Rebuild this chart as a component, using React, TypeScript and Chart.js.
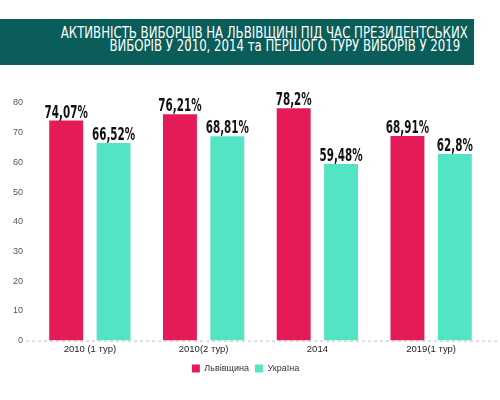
import { useEffect, useRef } from "react"
import { Chart, registerables } from "chart.js"

Chart.register(...registerables)

const categories = ["2010 (1 тур)", "2010(2 тур)", "2014", "2019(1 тур)"]
const lvivValues = [74.07, 76.21, 78.2, 68.91]
const ukraineValues = [66.52, 68.81, 59.48, 62.8]
const seriesNames = ["Львівщина", "Україна"]
const titleLines = [
  "АКТИВНІСТЬ ВИБОРЦІВ НА ЛЬВІВЩИНІ ПІД ЧАС ПРЕЗИДЕНТСЬКИХ",
  "ВИБОРІВ У 2010, 2014 та ПЕРШОГО ТУРУ ВИБОРІВ У 2019",
]

const RED = "#e41b57"
const TEAL = "#53e4c3"
const NARROW = "'Liberation Sans Narrow', 'DejaVu Sans Condensed', sans-serif"

// value labels above bars, narrow bold
const valueLabels = {
  id: "valueLabels",
  afterDatasetsDraw(chart: Chart) {
    const ctx = chart.ctx
    ctx.save()
    ctx.fillStyle = "#111"
    ctx.textAlign = "center"
    ctx.textBaseline = "alphabetic"
    ctx.font = `bold 18px ${NARROW}`
    chart.data.datasets.forEach((ds, i) => {
      const meta = chart.getDatasetMeta(i)
      meta.data.forEach((bar: any, j) => {
        const text = String(ds.data[j]).replace(".", ",") + "%"
        ctx.save()
        ctx.translate(bar.x, bar.y - 3)
        ctx.scale(0.64, 1)
        ctx.fillText(text, 0, 0)
        ctx.restore()
      })
    })
    ctx.restore()
  },
}

// dashed zero line running out to the right edge
const zeroLine = {
  id: "zeroLine",
  beforeDatasetsDraw(chart: Chart) {
    const ctx = chart.ctx
    const y = chart.scales.y.getPixelForValue(0)
    ctx.save()
    ctx.strokeStyle = "#bdbdbd"
    ctx.lineWidth = 1
    ctx.setLineDash([3, 3])
    ctx.beginPath()
    ctx.moveTo(chart.chartArea.left - 7, y + 0.5)
    ctx.lineTo(chart.width, y + 0.5)
    ctx.stroke()
    ctx.restore()
  },
}

export default function App() {
  const chartRef = useRef<HTMLCanvasElement>(null)
  const chartInstance = useRef<Chart | null>(null)

  useEffect(() => {
    if (!chartRef.current) return
    if (chartInstance.current) chartInstance.current.destroy()
    const ctx = chartRef.current.getContext("2d")
    if (!ctx) return

    chartInstance.current = new Chart(ctx, {
      type: "bar",
      data: {
        labels: categories,
        datasets: [
          { label: seriesNames[0], data: lvivValues, backgroundColor: RED },
          { label: seriesNames[1], data: ukraineValues, backgroundColor: TEAL },
        ],
      },
      options: {
        animation: false,
        responsive: true,
        maintainAspectRatio: false,
        categoryPercentage: 0.833,
        barPercentage: 0.716,
        layout: { padding: { top: 103, right: 12, bottom: 17, left: 3 } },
        plugins: {
          legend: {
            position: "bottom",
            labels: {
              boxWidth: 8,
              boxHeight: 8,
              padding: 6,
              color: "#333",
              font: { family: "'Liberation Sans', Arial, sans-serif", size: 9 },
            },
          },
          tooltip: { enabled: false },
        },
        scales: {
          x: {
            grid: { display: false, drawTicks: false },
            border: { display: false },
            ticks: {
              color: "#222",
              padding: 3,
              font: { family: "'Liberation Sans', Arial, sans-serif", size: 9.5 },
            },
          },
          y: {
            min: 0,
            max: 80,
            grid: { display: false, drawTicks: false },
            border: { display: false },
            ticks: {
              stepSize: 10,
              color: "#555",
              padding: 10,
              font: { family: "'Liberation Sans', Arial, sans-serif", size: 9 },
            },
          },
        },
      },
      plugins: [zeroLine, valueLabels],
    })

    return () => {
      if (chartInstance.current) chartInstance.current.destroy()
    }
  }, [])

  return (
    <div style={{ position: "fixed", left: 0, top: 0, width: 500, height: 400, background: "#fff" }}>
      <canvas ref={chartRef}></canvas>
      <div
        style={{
          position: "absolute",
          left: 0,
          top: 19,
          width: 474,
          height: 46,
          background: "#0a5d59",
          color: "#fff",
          fontFamily: NARROW,
          fontSize: 15,
        }}
      >
        {titleLines.map((line, i) => (
          <div
            key={i}
            style={{
              position: "absolute",
              right: i === 0 ? 6 : 14,
              top: i === 0 ? 7 : 20,
              whiteSpace: "nowrap",
              lineHeight: "15px",
              transform: "scaleX(0.87)",
              transformOrigin: "right",
            }}
          >
            {line}
          </div>
        ))}
      </div>
    </div>
  )
}
